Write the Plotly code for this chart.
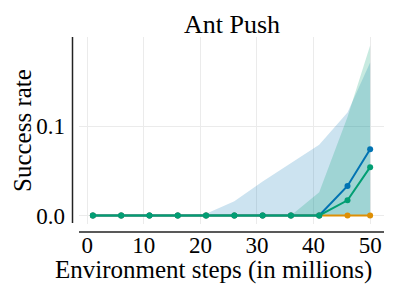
import plotly.graph_objects as go

steps = [1, 6, 11, 16, 21, 26, 31, 36, 41, 46, 50]
blue_mean = [0, 0, 0, 0, 0, 0, 0, 0, 0, 0.033, 0.074]
blue_upper = [0, 0, 0, 0, 0.002, 0.016, 0.038, 0.059, 0.079, 0.115, 0.171]
blue_lower = [0, 0, 0, 0, 0, 0, 0, 0, 0, 0, 0]
green_mean = [0, 0, 0, 0, 0, 0, 0, 0, 0, 0.017, 0.054]
green_upper = [0, 0, 0, 0, 0, 0, 0, 0, 0.026, 0.11, 0.19]
green_lower = [0, 0, 0, 0, 0, 0, 0, 0, 0, 0, 0]
orange_mean = [0, 0, 0, 0, 0, 0, 0, 0, 0, 0, 0]

x_ticks = [0, 10, 20, 30, 40, 50]
y_ticks = [0.0, 0.1]

BLUE = "#0173B2"
ORANGE = "#DE8F05"
GREEN = "#029E73"
FONT = "Liberation Serif"

W, H = 399, 299
L, R, T, B = 79, 384, 37, 224
PW, PH = R - L, B - T


def px(x):
    return (x - L) / PW


def py(y):
    return (B - y) / PH


fig = go.Figure()


def band(upper, lower, color):
    fig.add_trace(go.Scatter(
        x=steps + steps[::-1], y=upper + lower[::-1], fill="toself",
        fillcolor=color, line=dict(width=0), mode="lines",
        hoverinfo="skip", showlegend=False))


band(blue_upper, blue_lower, "rgba(1,115,178,0.2)")
band(green_upper, green_lower, "rgba(2,158,115,0.22)")

for ys, c in [(orange_mean, ORANGE), (blue_mean, BLUE), (green_mean, GREEN)]:
    fig.add_trace(go.Scatter(x=steps, y=ys, mode="lines+markers",
                             line=dict(color=c, width=2),
                             marker=dict(color=c, size=6),
                             showlegend=False))

fig.update_layout(
    width=W, height=H,
    margin=dict(l=L, r=W - R, t=T, b=H - B),
    plot_bgcolor="white", paper_bgcolor="white",
    font=dict(family=FONT, color="black"),
    xaxis=dict(range=[-1.45, 52.45], tickvals=x_ticks, showgrid=True,
               gridcolor="#ebebeb", gridwidth=1, zeroline=False,
               showline=False, ticks="", tickfont=dict(size=23),
               ticklabelstandoff=5, automargin=False),
    yaxis=dict(range=[-0.0095, 0.1995], tickvals=y_ticks, tickformat=".1f",
               showgrid=True, gridcolor="#ebebeb", gridwidth=1,
               zeroline=False, showline=False, ticks="",
               tickfont=dict(size=23), ticklabelstandoff=13, automargin=False),
    shapes=[
        dict(type="line", xref="paper", yref="paper", x0=px(72.5), x1=px(72.5),
             y0=py(223), y1=py(37), line=dict(color="#222", width=1.5)),
        dict(type="line", xref="paper", yref="paper", x0=px(79), x1=px(384),
             y0=py(232), y1=py(232), line=dict(color="#222", width=1.5)),
    ],
    annotations=[
        dict(text="Ant Push", xref="paper", yref="paper", x=px(232), y=py(25),
             showarrow=False, font=dict(size=26), xanchor="center",
             yanchor="middle"),
        dict(text="Environment steps (in millions)", xref="paper", yref="paper",
             x=px(213), y=py(270), showarrow=False, font=dict(size=25),
             xanchor="center", yanchor="middle"),
        dict(text="Success rate", xref="paper", yref="paper", x=px(22),
             y=py(131), showarrow=False, font=dict(size=25), textangle=-90,
             xanchor="center", yanchor="middle"),
    ],
)

fig.write_html("out.html", config={"displayModeBar": False},
               post_script="document.body.style.margin='0';")
